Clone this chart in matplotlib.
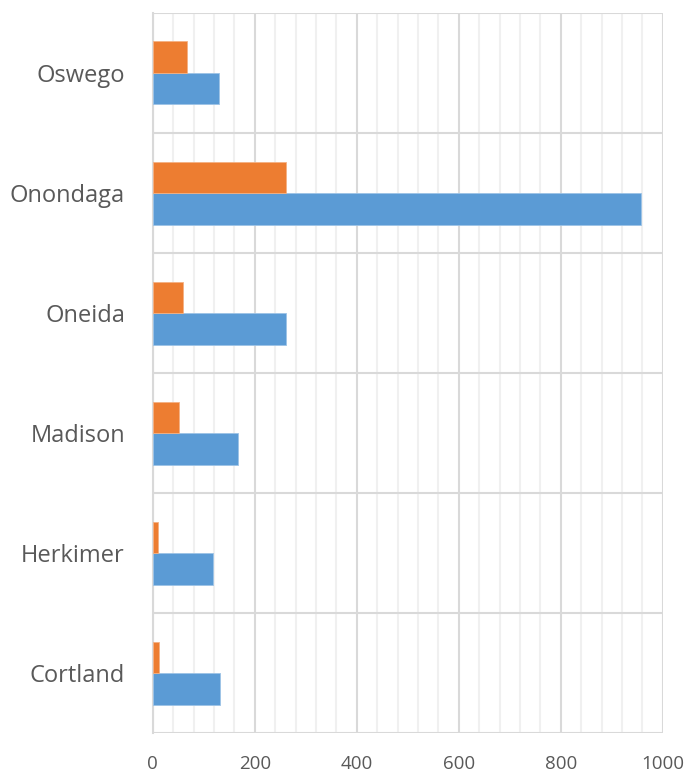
import matplotlib
matplotlib.use("Agg")
import matplotlib.pyplot as plt
import numpy as np
from matplotlib.ticker import MultipleLocator

categories = ["Cortland", "Herkimer", "Madison", "Oneida", "Onondaga", "Oswego"]
series_blue = [132, 118, 167, 262, 958, 130]
series_orange = [12, 10, 51, 59, 261, 67]
x_ticks = [0, 200, 400, 600, 800, 1000]

BLUE = "#5B9BD5"
ORANGE = "#ED7D31"
TEXT = "#595959"

plt.rcParams['font.family'] = ['Open Sans', 'DejaVu Sans']

fig = plt.figure(figsize=(6.88, 7.76), dpi=100)
ax = fig.add_axes([152.7 / 688, 1 - 733 / 776, 510 / 688, 720 / 776])

y = np.arange(len(categories))
h = 0.2625
ax.barh(y - h / 2, series_blue, height=h, color=BLUE, edgecolor="#9DC3E6", linewidth=0.6, zorder=3)
ax.barh(y + h / 2, series_orange, height=h, color=ORANGE, edgecolor="#F4B183", linewidth=0.6, zorder=3)

ax.set_xlim(0, 1000)
ax.set_ylim(-0.5, len(categories) - 0.5)

ax.set_xticks(x_ticks)
ax.set_xticklabels([str(t) for t in x_ticks])
ax.xaxis.set_minor_locator(MultipleLocator(40))
ax.set_yticks(y)
ax.set_yticklabels(categories)

# category separators
ax.set_yticks(np.arange(-0.5, len(categories), 1.0), minor=True)

ax.grid(True, which="major", axis="x", color="#D9D9D9", linewidth=1.5, zorder=1)
ax.grid(True, which="minor", axis="x", color="#F0F0F0", linewidth=1.5, zorder=0)
ax.grid(True, which="minor", axis="y", color="#D9D9D9", linewidth=1.5, zorder=1)
ax.grid(False, which="major", axis="y")

for s in ["top", "right", "bottom"]:
    ax.spines[s].set_visible(False)
ax.spines["left"].set_color("#D9D9D9")
ax.spines["left"].set_linewidth(1.5)

ax.tick_params(axis="both", which="both", length=0)
ax.tick_params(axis="x", which="major", labelsize=13.5, labelcolor=TEXT, pad=16)
ax.tick_params(axis="y", which="major", labelsize=17, labelcolor=TEXT, pad=20)

fig.savefig("out.png", dpi=100)
